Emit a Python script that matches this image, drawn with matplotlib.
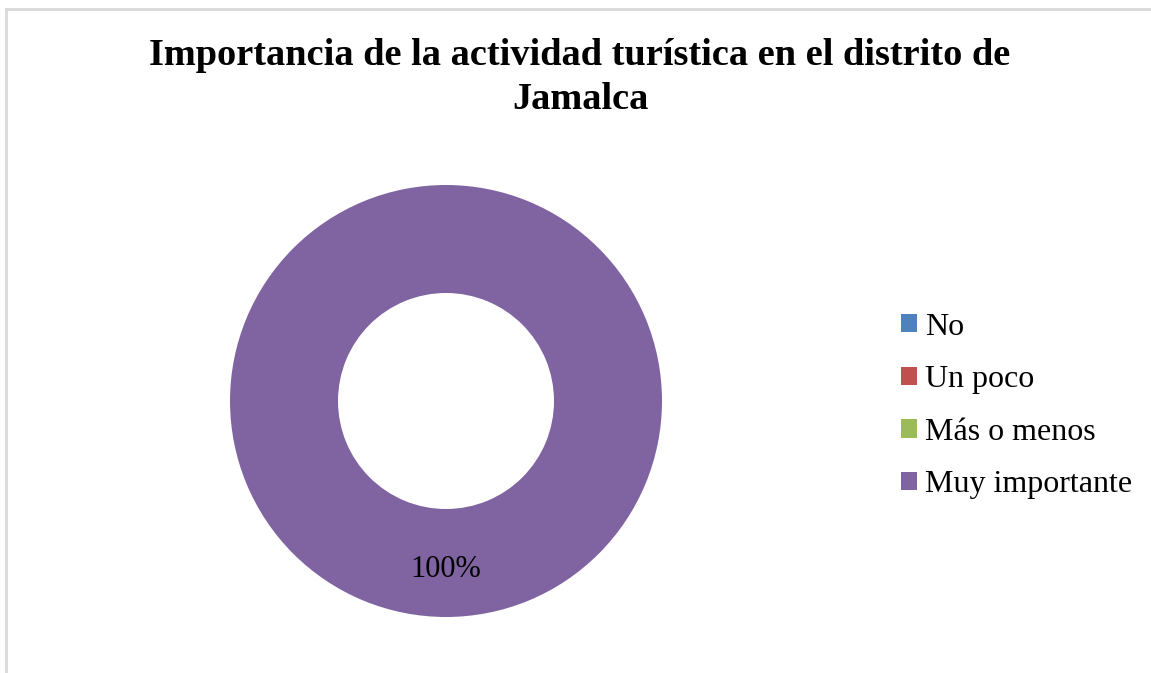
import matplotlib
matplotlib.use("Agg")
import matplotlib.pyplot as plt
from matplotlib.patches import Patch
from matplotlib.lines import Line2D

# chart data
categories = ["No", "Un poco", "Más o menos", "Muy importante"]
values = [0, 0, 0, 100]
colors = ["#4F81BD", "#C0504D", "#9BBB59", "#8064A2"]
title = "Importancia de la actividad turística en el distrito de\nJamalca"

plt.rcParams["font.family"] = ["Liberation Serif", "DejaVu Serif"]

W, H = 1151, 673
fig = plt.figure(figsize=(W / 100, H / 100), dpi=100)

# light grey chart frame (top and left edges visible)
fig.add_artist(Line2D([6 / W, 6 / W], [0, 1 - 8.5 / H], color="#d9d9d9", lw=2.0,
                      transform=fig.transFigure))
fig.add_artist(Line2D([6 / W, 1], [1 - 8.5 / H, 1 - 8.5 / H], color="#d9d9d9", lw=2.0,
                      transform=fig.transFigure))

fig.text(580 / W, 1 - 77.5 / H, title, ha="center", va="center",
         fontsize=27.6, fontweight="bold", linespacing=1.3)

ax = fig.add_axes([230 / W, 56 / H, 432 / W, 432 / H])


def pct(p):
    return f"{p:.0f}%" if p > 0 else ""


wedges, texts, autotexts = ax.pie(
    values, colors=colors, startangle=90, counterclock=False, radius=1,
    autopct=pct, pctdistance=0.78,
    wedgeprops=dict(width=0.5, edgecolor="none"),
    textprops=dict(fontsize=22, color="black"))
ax.set_xlim(-1, 1)
ax.set_ylim(-1, 1)
ax.set_aspect("equal")
ax.axis("off")

handles = [Patch(facecolor=c, edgecolor="none") for c in colors]
fig.legend(handles, categories, loc="center left",
           bbox_to_anchor=(901 / W, 1 - 406 / H), frameon=False,
           fontsize=23, handlelength=0.5, handleheight=0.5,
           handletextpad=0.25, labelspacing=0.74, borderpad=0, borderaxespad=0)

fig.savefig("out.png", dpi=100)
